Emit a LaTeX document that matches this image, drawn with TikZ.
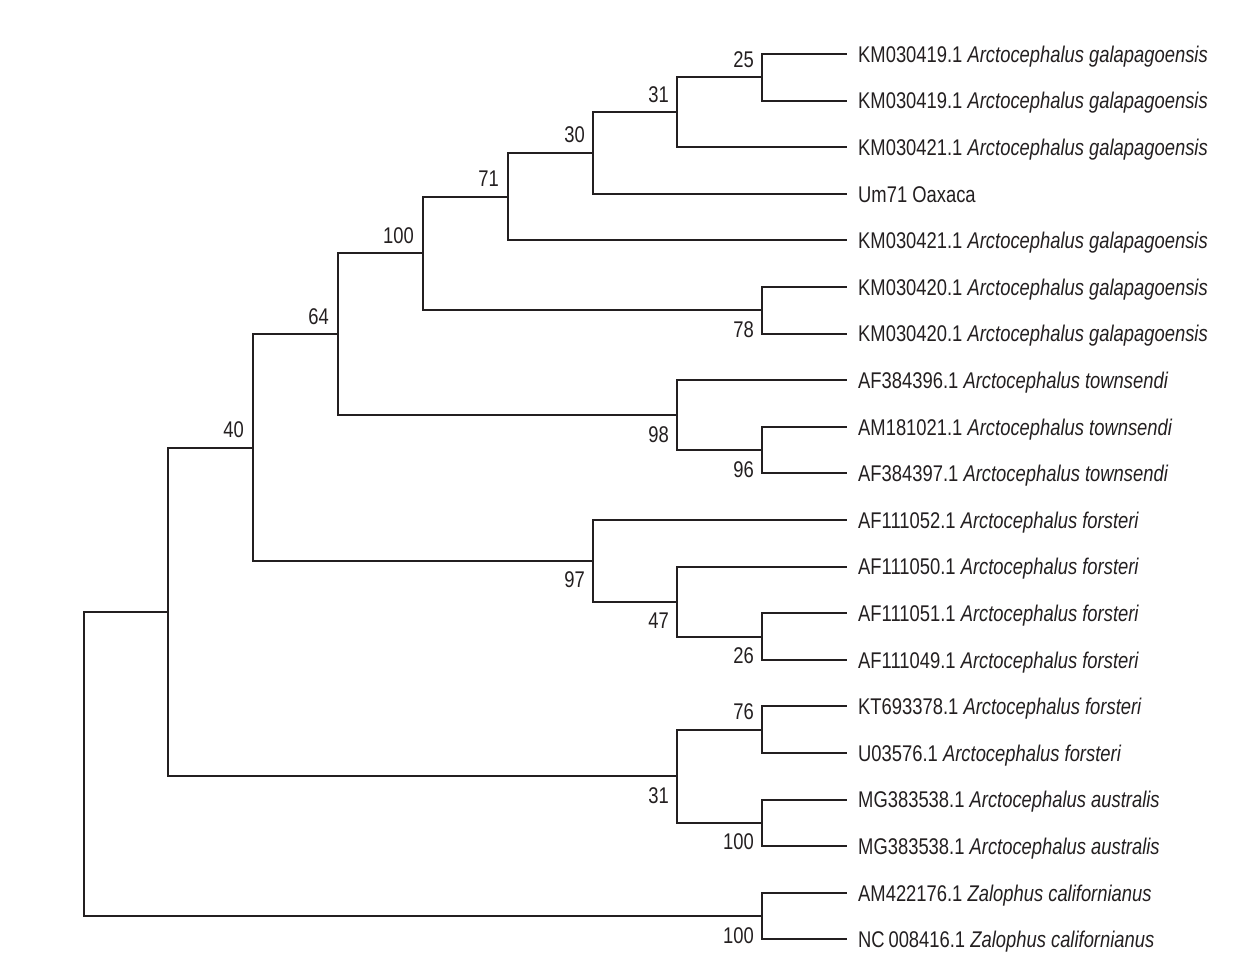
\documentclass[tikz,border=0pt]{standalone}
\usepackage{fontspec}
\setmainfont{Liberation Sans}[FakeStretch=0.81]
\usetikzlibrary{calc}
\definecolor{ink}{RGB}{35,31,32}
\begin{document}
\begin{tikzpicture}[x=1pt,y=-1pt,
  br/.style={draw=ink,line width=2pt,line join=miter},
  leaf/.style={anchor=base west,inner sep=0pt,text=ink,font=\fontsize{22.7}{27}\selectfont},
  lab/.style={anchor=base east,inner sep=0pt,text=ink,font=\fontsize{22.7}{27}\selectfont}]
\useasboundingbox (0,0) rectangle (1239,976);
% leaf tips
\coordinate (t1) at (847,54);
\coordinate (t2) at (847,100.6);
\coordinate (t3) at (847,147.2);
\coordinate (t4) at (847,193.8);
\coordinate (t5) at (847,240.4);
\coordinate (t6) at (847,287.0);
\coordinate (t7) at (847,333.6);
\coordinate (t8) at (847,380.2);
\coordinate (t9) at (847,426.8);
\coordinate (t10) at (847,473.4);
\coordinate (t11) at (847,520.0);
\coordinate (t12) at (847,566.6);
\coordinate (t13) at (847,613.2);
\coordinate (t14) at (847,659.8);
\coordinate (t15) at (847,706.4);
\coordinate (t16) at (847,753.0);
\coordinate (t17) at (847,799.6);
\coordinate (t18) at (847,846.2);
\coordinate (t19) at (847,892.8);
\coordinate (t20) at (847,939.4);
% internal nodes
\coordinate (a25) at (762,77.3);
\coordinate (a31) at (677,112.25);
\coordinate (a30) at (593,153.0);
\coordinate (a71) at (508,196.7);
\coordinate (a78) at (762,310.3);
\coordinate (a100) at (423,253.5);
\coordinate (a96) at (762,450.1);
\coordinate (a98) at (677,415.15);
\coordinate (a64) at (338,334.3);
\coordinate (a26) at (762,636.5);
\coordinate (a47) at (677,601.55);
\coordinate (a97) at (593,560.8);
\coordinate (a40) at (253,447.55);
\coordinate (a76) at (762,729.7);
\coordinate (a100b) at (762,822.9);
\coordinate (a31b) at (677,776.3);
\coordinate (a168) at (168,611.9);
\coordinate (a100c) at (762,916.1);
\coordinate (root) at (84,764);
% branches
\draw[br] (a25) |- (t1);  \draw[br] (a25) |- (t2);
\draw[br] (a31) |- (a25); \draw[br] (a31) |- (t3);
\draw[br] (a30) |- (a31); \draw[br] (a30) |- (t4);
\draw[br] (a71) |- (a30); \draw[br] (a71) |- (t5);
\draw[br] (a78) |- (t6);  \draw[br] (a78) |- (t7);
\draw[br] (a100) |- (a71); \draw[br] (a100) |- (a78);
\draw[br] (a96) |- (t9);  \draw[br] (a96) |- (t10);
\draw[br] (a98) |- (t8);  \draw[br] (a98) |- (a96);
\draw[br] (a64) |- (a100); \draw[br] (a64) |- (a98);
\draw[br] (a26) |- (t13); \draw[br] (a26) |- (t14);
\draw[br] (a47) |- (t12); \draw[br] (a47) |- (a26);
\draw[br] (a97) |- (t11); \draw[br] (a97) |- (a47);
\draw[br] (a40) |- (a64); \draw[br] (a40) |- (a97);
\draw[br] (a76) |- (t15); \draw[br] (a76) |- (t16);
\draw[br] (a100b) |- (t17); \draw[br] (a100b) |- (t18);
\draw[br] (a31b) |- (a76); \draw[br] (a31b) |- (a100b);
\draw[br] (a168) |- (a40); \draw[br] (a168) |- (a31b);
\draw[br] (a100c) |- (t19); \draw[br] (a100c) |- (t20);
\draw[br] (root) |- (a168); \draw[br] (root) |- (a100c);
% bootstrap labels
\node[lab] (l25) at ($(a25)+(-8,-10)$) {25};
\node[lab] (l31) at ($(a31)+(-8,-10)$) {31};
\node[lab] (l30) at ($(a30)+(-8,-10)$) {30};
\node[lab] (l71) at ($(a71)+(-9,-10)$) {71};
\node[lab] (l100) at ($(a100)+(-9,-10)$) {100};
\node[lab] (l78) at ($(a78)+(-8,27)$) {78};
\node[lab] (l64) at ($(a64)+(-9,-10)$) {64};
\node[lab] (l98) at ($(a98)+(-8,27)$) {98};
\node[lab] (l96) at ($(a96)+(-8,27)$) {96};
\node[lab] (l40) at ($(a40)+(-9,-10)$) {40};
\node[lab] (l97) at ($(a97)+(-8,27)$) {97};
\node[lab] (l47) at ($(a47)+(-8,27)$) {47};
\node[lab] (l26) at ($(a26)+(-8,27)$) {26};
\node[lab] (l31b) at ($(a31b)+(-8,27)$) {31};
\node[lab] (l76) at ($(a76)+(-8,-10)$) {76};
\node[lab] (l100b) at ($(a100b)+(-8,27)$) {100};
\node[lab] (l100c) at ($(a100c)+(-8,27)$) {100};
% leaf names
\node[leaf] (n1) at ($(t1)+(11,8.3)$) {KM030419.1 \textit{Arctocephalus galapagoensis}};
\node[leaf] (n2) at ($(t2)+(11,8.3)$) {KM030419.1 \textit{Arctocephalus galapagoensis}};
\node[leaf] (n3) at ($(t3)+(11,8.3)$) {KM030421.1 \textit{Arctocephalus galapagoensis}};
\node[leaf] (n4) at ($(t4)+(11,8.3)$) {Um71 Oaxaca};
\node[leaf] (n5) at ($(t5)+(11,8.3)$) {KM030421.1 \textit{Arctocephalus galapagoensis}};
\node[leaf] (n6) at ($(t6)+(11,8.3)$) {KM030420.1 \textit{Arctocephalus galapagoensis}};
\node[leaf] (n7) at ($(t7)+(11,8.3)$) {KM030420.1 \textit{Arctocephalus galapagoensis}};
\node[leaf] (n8) at ($(t8)+(11,8.3)$) {AF384396.1 \textit{Arctocephalus townsendi}};
\node[leaf] (n9) at ($(t9)+(11,8.3)$) {AM181021.1 \textit{Arctocephalus townsendi}};
\node[leaf] (n10) at ($(t10)+(11,8.3)$) {AF384397.1 \textit{Arctocephalus townsendi}};
\node[leaf] (n11) at ($(t11)+(11,8.3)$) {AF111052.1 \textit{Arctocephalus forsteri}};
\node[leaf] (n12) at ($(t12)+(11,8.3)$) {AF111050.1 \textit{Arctocephalus forsteri}};
\node[leaf] (n13) at ($(t13)+(11,8.3)$) {AF111051.1 \textit{Arctocephalus forsteri}};
\node[leaf] (n14) at ($(t14)+(11,8.3)$) {AF111049.1 \textit{Arctocephalus forsteri}};
\node[leaf] (n15) at ($(t15)+(11,8.3)$) {KT693378.1 \textit{Arctocephalus forsteri}};
\node[leaf] (n16) at ($(t16)+(11,8.3)$) {U03576.1 \textit{Arctocephalus forsteri}};
\node[leaf] (n17) at ($(t17)+(11,8.3)$) {MG383538.1 \textit{Arctocephalus australis}};
\node[leaf] (n18) at ($(t18)+(11,8.3)$) {MG383538.1 \textit{Arctocephalus australis}};
\node[leaf] (n19) at ($(t19)+(11,8.3)$) {AM422176.1 \textit{Zalophus californianus}};
\node[leaf] (n20) at ($(t20)+(11,8.3)$) {NC\,008416.1 \textit{Zalophus californianus}};
\end{tikzpicture}
\end{document}
